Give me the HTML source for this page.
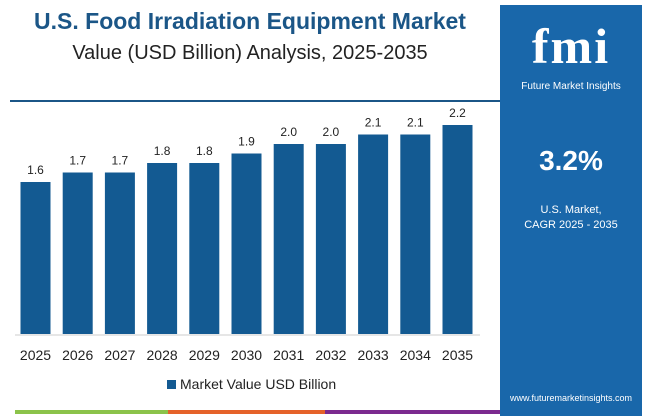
<!DOCTYPE html>
<html><head><meta charset="utf-8"><style>
body{margin:0;width:650px;height:416px;background:#fff;font-family:"Liberation Sans",sans-serif;overflow:hidden;position:relative}
.t1{position:absolute;left:0;width:500px;top:8px;text-align:center;font-weight:bold;font-size:23px;color:#1b5687}
.t2{position:absolute;left:0;width:500px;top:42px;text-align:center;font-size:20px;color:#222}
#panel{position:absolute;left:500px;top:5px;width:142px;height:411px;background:#1967aa}
</style></head><body>
<div class="t1">U.S. Food Irradiation Equipment Market</div>
<div class="t2">Value (USD Billion) Analysis, 2025-2035</div>
<div id="panel">
 <div style="position:absolute;top:12px;width:142px;text-align:center;color:#fff;font-weight:bold;font-size:50px;font-family:'Liberation Serif',serif;letter-spacing:2px">fmi</div>
 <div style="position:absolute;top:76px;width:142px;text-align:center;color:#fff;font-size:10px">Future Market Insights</div>
 <div style="position:absolute;top:140px;width:142px;text-align:center;color:#fff;font-weight:bold;font-size:28px">3.2%</div>
 <div style="position:absolute;top:198px;width:142px;text-align:center;color:#fff;font-size:11px;line-height:15px">U.S. Market,<br>CAGR 2025 - 2035</div>
 <div style="position:absolute;top:388px;width:142px;text-align:center;color:#fff;font-size:9px">www.futuremarketinsights.com</div>
</div>
<svg id="chart" width="650" height="416" style="position:absolute;left:0;top:0">
 <line x1="10" y1="101" x2="500" y2="101" stroke="#1b5687" stroke-width="2"/>
 <rect x="15" y="410" width="153" height="4" fill="#8bc34a"/>
 <rect x="168" y="410" width="157" height="4" fill="#e5622a"/>
 <rect x="325" y="410" width="175" height="4" fill="#7b2a8f"/>
 <g id="bars"></g>
 <line x1="15" y1="335" x2="480" y2="335" stroke="#ccc"/>
 <rect x="167" y="380" width="9" height="9" fill="#135a92"/>
 <text x="180" y="389" font-size="14" fill="#222">Market Value USD Billion</text>
</svg>
<script>
const categories=["2025","2026","2027","2028","2029","2030","2031","2032","2033","2034","2035"];
const values=[1.6,1.7,1.7,1.8,1.8,1.9,2.0,2.0,2.1,2.1,2.2];
const labels=["1.6","1.7","1.7","1.8","1.8","1.9","2.0","2.0","2.1","2.1","2.2"];
const g=document.getElementById('bars');const ns='http://www.w3.org/2000/svg';
const x=i=>35.5+i*42.2, y=v=>334-v*95;
values.forEach((v,i)=>{
 const r=document.createElementNS(ns,'rect');
 r.setAttribute('x',x(i)-15);r.setAttribute('y',y(v));r.setAttribute('width',30);r.setAttribute('height',334-y(v));r.setAttribute('fill','#135a92');
 
 
 g.appendChild(r);
 const t=document.createElementNS(ns,'text');
 t.setAttribute('x',x(i));t.setAttribute('y',y(v)-8);t.setAttribute('text-anchor','middle');t.setAttribute('font-size','12');t.setAttribute('fill','#222');t.textContent=labels[i];
 
 
 g.appendChild(t);
 const c=document.createElementNS(ns,'text');
 c.setAttribute('x',x(i));c.setAttribute('y',360);c.setAttribute('text-anchor','middle');c.setAttribute('font-size','14');c.setAttribute('fill','#222');c.textContent=categories[i];
 
 
 g.appendChild(c);
});
</script>
</body></html>
